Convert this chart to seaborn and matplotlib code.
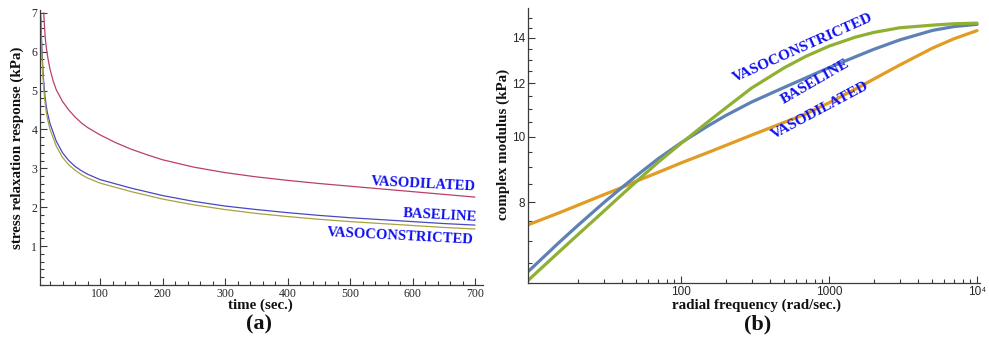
import numpy as np
import pandas as pd
import matplotlib
matplotlib.use("Agg")
import matplotlib.pyplot as plt
from matplotlib.ticker import FixedLocator, MultipleLocator, NullFormatter, FixedFormatter
import seaborn as sns

# ---------------- data (a): stress relaxation ----------------
t_dil = [10, 11, 12, 13, 15, 17, 20, 25, 30, 40, 50, 60, 70, 80, 100, 125, 150, 175, 200,
         250, 300, 350, 400, 450, 500, 550, 600, 650, 700]
v_dil = [7.0, 6.7, 6.45, 6.25, 6.0, 5.8, 5.55, 5.25, 5.02, 4.72, 4.5, 4.32, 4.17, 4.05, 3.86,
         3.66, 3.49, 3.35, 3.22, 3.03, 2.89, 2.78, 2.69, 2.61, 2.54, 2.47, 2.40, 2.33, 2.26]

t_base = [5, 6, 7, 8, 9, 10, 12, 14, 16, 20, 30, 40, 50, 60, 70, 80, 100, 150, 200,
          250, 300, 350, 400, 450, 500, 550, 600, 650, 700]
v_base = [7.0, 6.5, 6.1, 5.75, 5.45, 5.2, 4.85, 4.6, 4.42, 4.15, 3.7, 3.4, 3.2, 3.05, 2.94,
          2.85, 2.71, 2.49, 2.30, 2.15, 2.03, 1.94, 1.86, 1.79, 1.73, 1.68, 1.63, 1.58, 1.54]
v_con = [6.9, 6.35, 5.95, 5.6, 5.3, 5.05, 4.7, 4.45, 4.27, 4.0, 3.57, 3.28, 3.09, 2.95, 2.84,
         2.75, 2.62, 2.40, 2.21, 2.06, 1.94, 1.84, 1.76, 1.69, 1.63, 1.58, 1.53, 1.48, 1.44]

# ---------------- data (b): complex modulus ----------------
freq = [9.25, 10, 15, 20, 30, 40, 50, 70, 100, 150, 200, 300, 500, 700,
        1000, 1500, 2000, 3000, 5000, 7000, 10000]
g_dil = [7.40, 7.45, 7.71, 7.91, 8.20, 8.41, 8.59, 8.85, 9.14, 9.46, 9.70, 10.05, 10.50, 10.81,
         11.22, 11.75, 12.16, 12.76, 13.52, 13.96, 14.35]
g_base = [6.31, 6.41, 6.97, 7.38, 7.98, 8.41, 8.75, 9.27, 9.79, 10.35, 10.74, 11.25, 11.83, 12.22,
          12.65, 13.12, 13.46, 13.90, 14.36, 14.55, 14.66]
g_con = [6.12, 6.22, 6.75, 7.15, 7.75, 8.21, 8.58, 9.16, 9.77, 10.49, 11.02, 11.80, 12.65, 13.15,
         13.61, 14.03, 14.26, 14.49, 14.62, 14.69, 14.72]

labels = ["VASODILATED", "BASELINE", "VASOCONSTRICTED"]

sns.set_style("ticks")
plt.rcParams["font.family"] = ["Liberation Serif", "DejaVu Serif"]

W, H = 989, 341
fig = plt.figure(figsize=(W / 100, H / 100), dpi=100)

def fx(px):
    return px / W

def fy(py):
    return 1 - py / H

axcol = "#3a3a3a"

# ---------------- panel (a) ----------------
axA = fig.add_axes([fx(40), fy(285), fx(483) - fx(40), fy(10) - fy(285)])
dfA = pd.concat([
    pd.DataFrame({"t": t_dil, "v": v_dil, "s": labels[0]}),
    pd.DataFrame({"t": t_base, "v": v_base, "s": labels[1]}),
    pd.DataFrame({"t": t_base, "v": v_con, "s": labels[2]}),
])
palA = {labels[0]: "#b8406e", labels[1]: "#4848c4", labels[2]: "#aaa240"}
sns.lineplot(data=dfA, x="t", y="v", hue="s", palette=palA, ax=axA,
             legend=False, estimator=None, sort=False, linewidth=0.9)
axA.set_xlim(4, 712.8)
axA.set_ylim(0, 7.07)
axA.set_xlabel("")
axA.set_ylabel("")
for s in ["top", "right"]:
    axA.spines[s].set_visible(False)
for s in ["left", "bottom"]:
    axA.spines[s].set_color(axcol)
    axA.spines[s].set_linewidth(0.9)
axA.xaxis.set_major_locator(FixedLocator([100, 200, 300, 400, 500, 600, 700]))
axA.xaxis.set_minor_locator(MultipleLocator(20))
axA.yaxis.set_major_locator(FixedLocator([1, 2, 3, 4, 5, 6, 7]))
axA.yaxis.set_minor_locator(MultipleLocator(0.2))
axA.tick_params(which="both", direction="in", color=axcol, width=0.8)
axA.tick_params(which="major", length=5, labelsize=8.5, pad=2)
axA.tick_params(which="minor", length=3)
for lab in axA.get_xticklabels() + axA.get_yticklabels():
    lab.set_family(["Liberation Serif"])

annA = [(618, 2.60, labels[0]), (644, 1.79, labels[1]), (580, 1.26, labels[2])]
for x, y, s in annA:
    axA.text(x, y, s, color="#1010ee", fontsize=10.5, fontweight="bold",
             family=["Liberation Serif"], ha="center", va="center",
             rotation=-3, rotation_mode="anchor")

# ---------------- panel (b) ----------------
axB = fig.add_axes([fx(528), fy(283), fx(980) - fx(528), fy(8) - fy(283)])
dfB = pd.concat([
    pd.DataFrame({"f": freq, "g": g_dil, "s": labels[0]}),
    pd.DataFrame({"f": freq, "g": g_base, "s": labels[1]}),
    pd.DataFrame({"f": freq, "g": g_con, "s": labels[2]}),
])
palB = {labels[0]: "#E19C24", labels[1]: "#5E81B5", labels[2]: "#8FB032"}
axB.set_xscale("log")
axB.set_yscale("log")
sns.lineplot(data=dfB, x="f", y="g", hue="s", palette=palB, ax=axB,
             legend=False, estimator=None, sort=False, linewidth=2.3)
axB.set_xlim(9.25, 10470)
axB.set_ylim(6.07, 15.5)
axB.set_xlabel("")
axB.set_ylabel("")
for s in ["top", "right"]:
    axB.spines[s].set_visible(False)
for s in ["left", "bottom"]:
    axB.spines[s].set_color(axcol)
    axB.spines[s].set_linewidth(0.9)
axB.xaxis.set_major_locator(FixedLocator([100, 1000, 10000]))
axB.xaxis.set_major_formatter(FixedFormatter(["100", "1000", "10\u2074"]))
minx = [m * 10 ** e for e in (1, 2, 3) for m in range(2, 10)]
axB.xaxis.set_minor_locator(FixedLocator(minx))
axB.xaxis.set_minor_formatter(NullFormatter())
axB.yaxis.set_major_locator(FixedLocator([8, 10, 12, 14]))
axB.yaxis.set_major_formatter(FixedFormatter(["8", "10", "12", "14"]))
axB.yaxis.set_minor_locator(FixedLocator([6.5, 7, 7.5, 8.5, 9, 9.5, 10.5, 11, 11.5, 12.5, 13, 13.5, 14.5, 15]))
axB.yaxis.set_minor_formatter(NullFormatter())
axB.tick_params(which="both", direction="in", color=axcol, width=0.8)
axB.tick_params(which="major", length=5, labelsize=8.5, pad=2)
axB.tick_params(which="minor", length=3)
for lab in axB.get_xticklabels() + axB.get_yticklabels():
    lab.set_family(["Liberation Sans", "DejaVu Sans"])

annB = [(667, 13.55, labels[2], 24), (811, 12.05, labels[1], 30), (869, 10.92, labels[0], 28)]
for x, y, s, r in annB:
    axB.text(x, y, s, color="#1010ee", fontsize=11, fontweight="bold",
             family=["Liberation Serif"], ha="center", va="center",
             rotation=r, rotation_mode="anchor")

# ---------------- labels ----------------
lab_kw = dict(fontsize=10.8, fontweight="bold", family=["Liberation Serif"], color="#111111")
fig.text(fx(17), fy(148), "stress relaxation response (kPa)", rotation=90,
         ha="center", va="center", **lab_kw)
fig.text(fx(260), fy(305), "time (sec.)", ha="center", va="center", **lab_kw)
fig.text(fx(503), fy(144), "complex modulus (kPa)", rotation=90,
         ha="center", va="center", **lab_kw)
fig.text(fx(757), fy(305), "radial frequency (rad/sec.)", ha="center", va="center", **lab_kw)
fig.text(fx(259), fy(324), "(a)", ha="center", va="center", fontsize=16,
         fontweight="bold", family=["Liberation Serif"], color="#111111")
fig.text(fx(758), fy(324), "(b)", ha="center", va="center", fontsize=16,
         fontweight="bold", family=["Liberation Serif"], color="#111111")

fig.savefig("out.png", dpi=100)
